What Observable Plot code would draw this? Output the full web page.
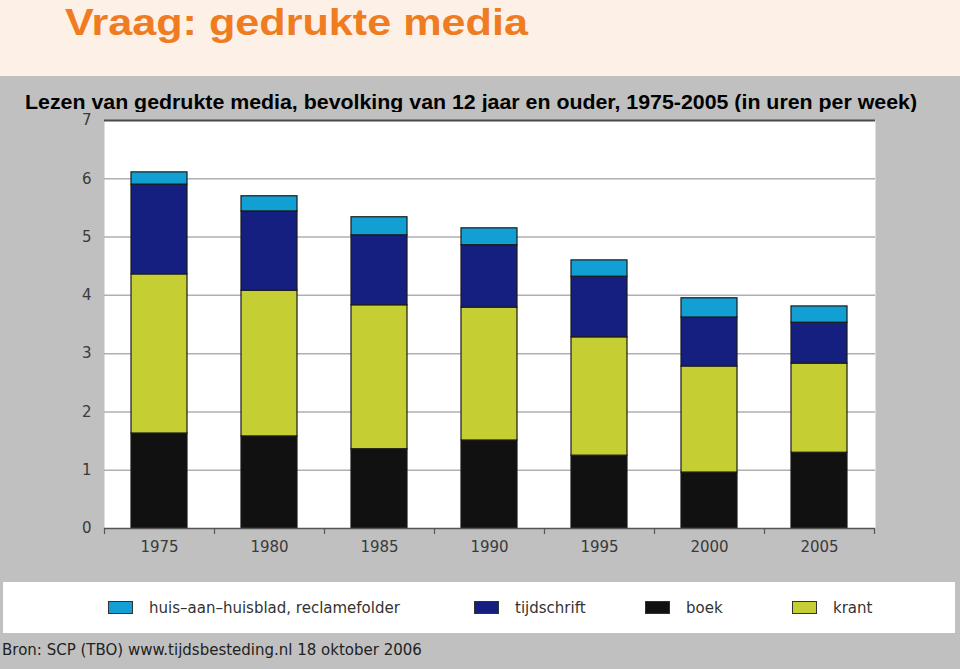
<!DOCTYPE html>
<html>
<head>
<meta charset="utf-8">
<script src="https://cdn.jsdelivr.net/npm/d3@7"></script>
<script src="https://cdn.jsdelivr.net/npm/@observablehq/plot@0.6"></script>
<style>
  html, body { margin: 0; padding: 0; }
  body { width: 960px; height: 669px; background: #c0c0c0; position: relative; overflow: hidden; font-family: "DejaVu Sans", sans-serif; }
  #band { position: absolute; left: 0; top: 0; width: 960px; height: 76px; background: #fdf0e7; }
  #heads { position: absolute; left: 0; top: 0; }
  #chart { position: absolute; left: 0; top: 112px; }
  #legend { position: absolute; left: 3px; top: 582px; width: 952px; height: 51px; background: #fff; }
  .item { position: absolute; top: 0; height: 51px; display: flex; align-items: center; font-size: 15px; color: #333; white-space: nowrap; }
  .sw { display: inline-block; width: 23px; height: 11px; border: 1px solid #333; margin-right: 16px; }
  #source { position: absolute; left: 2px; top: 641px; font-size: 15px; color: #222; white-space: nowrap; }
</style>
</head>
<body>
<div id="band"></div>
<svg id="heads" width="960" height="112">
  <text x="65" y="35" font-family="Liberation Sans, Arial, sans-serif" font-weight="bold" font-size="37" fill="#f07c22" textLength="463" lengthAdjust="spacingAndGlyphs">Vraag: gedrukte media</text>
  <text x="25" y="109" font-family="Liberation Sans, Arial, sans-serif" font-weight="bold" font-size="21" fill="#000" textLength="892" lengthAdjust="spacingAndGlyphs">Lezen van gedrukte media, bevolking van 12 jaar en ouder, 1975-2005 (in uren per week)</text>
</svg>
<div id="chart"></div>
<div id="legend"></div>
<div id="source">Bron: SCP (TBO) www.tijdsbesteding.nl 18 oktober 2006</div>
<script>
const years = ["1975", "1980", "1985", "1990", "1995", "2000", "2005"];
const boek = [1.63, 1.58, 1.36, 1.51, 1.25, 0.96, 1.30];
const krant = [2.73, 2.50, 2.47, 2.28, 2.03, 1.82, 1.53];
const tijdschrift = [1.54, 1.36, 1.20, 1.07, 1.04, 0.84, 0.70];
const huisblad = [0.21, 0.26, 0.31, 0.29, 0.28, 0.33, 0.28];
const seriesNames = ["boek", "krant", "tijdschrift", "huis–aan–huisblad, reclamefolder"];
const seriesColors = ["#111111", "#c5cf33", "#141f80", "#12a0d4"];
const legendOrder = ["huis–aan–huisblad, reclamefolder", "tijdschrift", "boek", "krant"];
const yTicks = [0, 1, 2, 3, 4, 5, 6, 7];

const seriesValues = [boek, krant, tijdschrift, huisblad];
const data = [];
years.forEach((yr, i) => {
  seriesNames.forEach((s, k) => data.push({year: yr, series: s, value: seriesValues[k][i]}));
});

const chart = Plot.plot({
  width: 960,
  height: 461,
  marginLeft: 104,
  marginRight: 85,
  marginTop: 8,
  marginBottom: 45,
  style: {fontFamily: "DejaVu Sans, sans-serif", fontSize: "15px", color: "#3a3a3a", background: "transparent"},
  x: {domain: years, paddingInner: 0.49, paddingOuter: 0.245, label: null},
  y: {domain: [0, 7], ticks: yTicks, label: null},
  color: {domain: seriesNames, range: seriesColors},
  marks: [
    Plot.frame({fill: "#fff", stroke: null}),
    Plot.ruleY(yTicks.filter(t => t > 0 && t < 7), {stroke: "#b0b0b0", strokeWidth: 1.5}),
    Plot.ruleY([7], {stroke: "#4a4a4a", strokeWidth: 2}),
    Plot.barY(data, {x: "year", y: "value", fill: "series", stroke: "#1a1a1a", strokeWidth: 1.2}),
    Plot.ruleY([0], {stroke: "#555", strokeWidth: 1.5}),
    Plot.ruleX(years, {x: d => d, dx: -55, y1: 0, y2: 0, insetBottom: -6, stroke: "#555", strokeWidth: 1.2}),
    Plot.ruleX([years[years.length - 1]], {x: d => d, dx: 55, y1: 0, y2: 0, insetBottom: -6, stroke: "#555", strokeWidth: 1.2}),
    Plot.axisY({ticks: yTicks, tickFormat: d3.format("d"), tickSize: 0, tickPadding: 13, label: null, fill: "#3a3a3a"}),
    Plot.axisX({tickSize: 0, tickPadding: 13, label: null, fill: "#3a3a3a"})
  ]
});
document.getElementById("chart").appendChild(chart);

const colorOf = Object.fromEntries(seriesNames.map((s, i) => [s, seriesColors[i]]));
const legendX = [105, 471, 642, 789];
const legend = document.getElementById("legend");
legendOrder.forEach((s, i) => {
  const it = document.createElement("div");
  it.className = "item";
  it.style.left = legendX[i] + "px";
  const sw = document.createElement("span");
  sw.className = "sw";
  sw.style.background = colorOf[s];
  it.appendChild(sw);
  it.appendChild(document.createTextNode(s));
  legend.appendChild(it);
});
</script>
</body>
</html>
